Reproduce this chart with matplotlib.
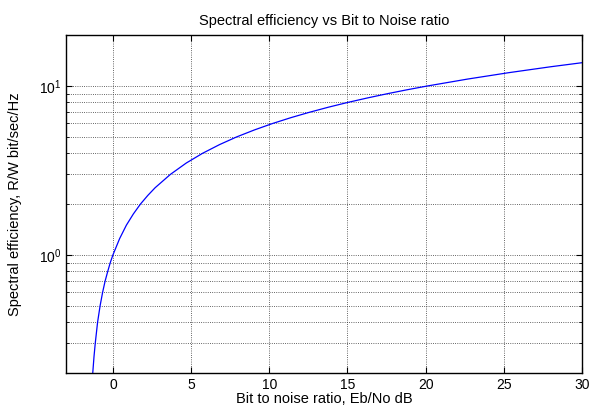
import matplotlib
matplotlib.use("Agg")
import matplotlib.pyplot as plt
from matplotlib.ticker import LogLocator, NullFormatter

plt.rcParams['font.family'] = ['Liberation Sans', 'DejaVu Sans']

# points: Eb/No in dB vs spectral efficiency R/W
ebno_db = [-1.29, -1.21, -1.13, -0.98, -0.82, -0.66, -0.50, -0.33, -0.17, 0.0,
           0.43, 0.86, 1.31, 1.76, 2.23, 2.70, 3.68, 4.69, 5.74, 6.82,
           7.92, 9.06, 10.21, 11.39, 12.59, 13.80, 15.03, 16.28, 17.54, 18.81,
           20.10, 22.70, 25.33, 27.99, 30.68]
eff = [0.2, 0.25, 0.3, 0.4, 0.5, 0.6, 0.7, 0.8, 0.9, 1.0,
       1.25, 1.5, 1.75, 2.0, 2.25, 2.5, 3.0, 3.5, 4.0, 4.5,
       5.0, 5.5, 6.0, 6.5, 7.0, 7.5, 8.0, 8.5, 9.0, 9.5,
       10.0, 11.0, 12.0, 13.0, 14.0]
xticks = [0, 5, 10, 15, 20, 25, 30]

fig = plt.figure(figsize=(5.91, 4.09), dpi=100)
ax = fig.add_axes([0.1117, 0.088, 0.873, 0.826])

ax.semilogy(ebno_db, eff, color='#0000ff', lw=0.9)
ax.set_xlim(-3, 30)
ax.set_ylim(0.2, 20)
ax.set_xticks(xticks)
ax.yaxis.set_major_locator(LogLocator(base=10))
ax.yaxis.set_minor_locator(LogLocator(base=10, subs=range(2, 10)))
ax.yaxis.set_minor_formatter(NullFormatter())

ax.grid(True, which='major', color='#333333', ls=':', lw=0.6)
ax.grid(True, which='minor', axis='y', color='#333333', ls=':', lw=0.6)
ax.tick_params(which='both', direction='in', top=True, right=True, labelsize=10)
ax.tick_params(which='major', length=4)
ax.tick_params(which='minor', length=2.5)
for s in ax.spines.values():
    s.set_linewidth(1.0)

ax.set_title('Spectral efficiency vs Bit to Noise ratio', fontsize=10.5, pad=7)
ax.set_xlabel('Bit to noise ratio, Eb/No dB', fontsize=10.5, labelpad=0)
ax.set_ylabel('Spectral efficiency, R/W bit/sec/Hz', fontsize=10.5, labelpad=12)

fig.savefig('out.png', dpi=100)
